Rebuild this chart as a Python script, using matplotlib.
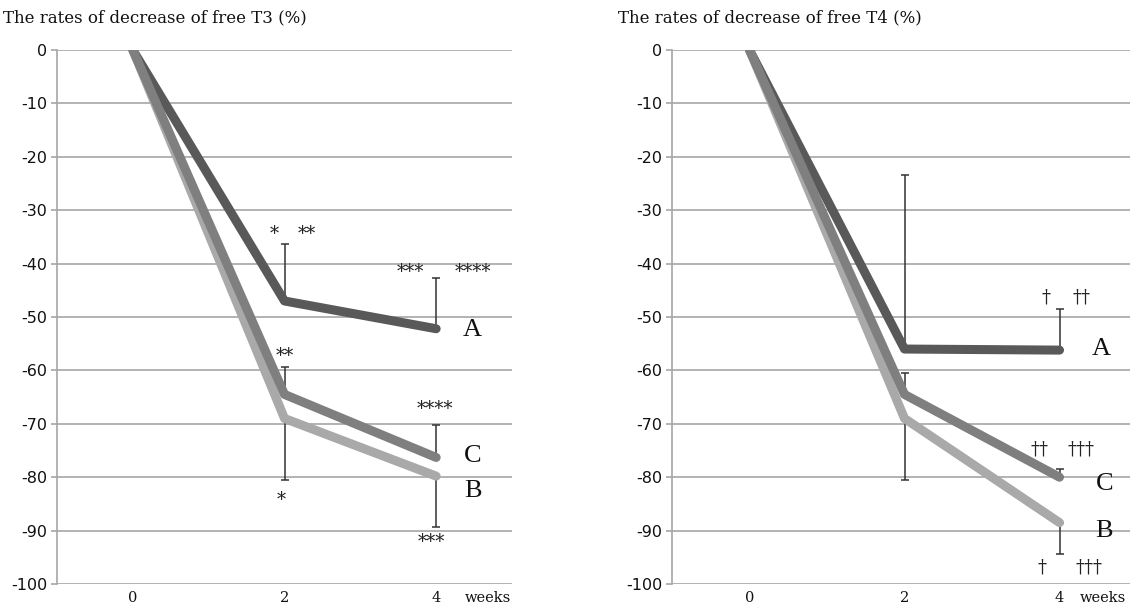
"""Rates of decrease of free T3 / free T4 in groups A, B and C."""

import matplotlib
matplotlib.use("Agg")
import matplotlib.pyplot as plt
import numpy as np

plt.rcParams["axes.unicode_minus"] = False

weeks = ["0", "2", "4"]

# free T3 (%)
t3_a = [0, -47.0, -52.2]
t3_b = [0, -69.0, -79.8]
t3_c = [0, -64.5, -76.3]
# end of each one-sided error bar (nan = no bar)
t3_a_bar = [np.nan, -36.3, -42.7]
t3_b_bar = [np.nan, -80.5, -89.3]
t3_c_bar = [np.nan, -59.3, -70.2]

# free T4 (%)
t4_a = [0, -56.0, -56.2]
t4_b = [0, -69.0, -88.5]
t4_c = [0, -64.5, -80.0]
t4_a_bar = [np.nan, -23.5, -48.5]
t4_b_bar = [np.nan, -80.5, -94.3]
t4_c_bar = [np.nan, -60.5, -78.5]

# significance marks: (text, x position, y value)
t3_marks = [
    ("*", 0.93, -34.5), ("**", 1.15, -34.5),
    ("***", 1.83, -41.5), ("****", 2.24, -41.5),
    ("**", 1.0, -57.3),
    ("****", 1.99, -67.2),
    ("*", 0.98, -84.3),
    ("***", 1.97, -92.1),
]
t4_marks = [
    ("†", 1.91, -46.3), ("††", 2.14, -46.3),
    ("††", 1.87, -74.9), ("†††", 2.14, -74.9),
    ("†", 1.89, -97.0), ("†††", 2.19, -97.0),
]
t3_labels = [("A", 2.24, -52.5), ("C", 2.24, -76.0), ("B", 2.24, -82.6)]
t4_labels = [("A", 2.27, -55.9), ("C", 2.29, -81.2), ("B", 2.29, -90.0)]

colors = {"A": "#595959", "B": "#a9a9a9", "C": "#7f7f7f"}
GRID = "#a6a6a6"
SERIF = "DejaVu Serif"


def draw_panel(ax, title, series, bars, marks, labels, weeks_x):
    x = np.arange(len(weeks))
    ax.set_xlim(-0.5, len(weeks) - 0.5)
    ax.set_ylim(-100, 0)
    ax.set_yticks(np.arange(-100, 1, 10))
    ax.yaxis.grid(True, color=GRID, linewidth=1.2)
    ax.set_axisbelow(True)
    for side in ["top", "right", "bottom"]:
        ax.spines[side].set_visible(False)
    ax.spines["left"].set_color(GRID)
    ax.spines["left"].set_linewidth(1.2)
    ax.tick_params(axis="y", length=4, width=1.2, color=GRID, labelsize=11.5,
                   pad=3, labelcolor="#111111")
    ax.tick_params(axis="x", length=0, pad=5)
    ax.set_xticks(x)
    ax.set_xticklabels(weeks, family=SERIF, fontsize=10.5, color="#111111")
    ax.annotate("weeks", xy=(weeks_x, 0), xycoords=("data", "axes fraction"),
                xytext=(0, -5), textcoords="offset points", family=SERIF,
                fontsize=10.5, ha="center", va="top", color="#111111",
                annotation_clip=False)

    for key in ["A", "B", "C"]:
        vals = np.array(series[key], dtype=float)
        ends = np.array(bars[key], dtype=float)
        has = ~np.isnan(ends)
        err = np.abs(ends[has] - vals[has])
        upper = ends[has] > vals[has]
        yerr = [np.where(upper, 0, err), np.where(upper, err, 0)]
        ax.errorbar(x[has], vals[has], yerr=yerr, fmt="none", ecolor="#333333",
                    elinewidth=1.1, capsize=3, capthick=1.1, zorder=2)

    for key in ["A", "B", "C"]:
        ax.plot(x, series[key], color=colors[key], linewidth=6.5,
                solid_capstyle="round", solid_joinstyle="round", zorder=3)

    for txt, mx, my in marks:
        ax.text(mx, my, txt, family=SERIF, fontsize=13, ha="center",
                va="center", color="#222222", zorder=4)
    for txt, lx, ly in labels:
        ax.text(lx, ly, txt, family="Liberation Serif", fontsize=19,
                ha="center", va="center", color="#111111", zorder=4)

    ax.annotate(title, xy=(0, 1), xycoords="axes fraction",
                xytext=(-54, 32), textcoords="offset pixels", family=SERIF,
                fontsize=12, ha="left", va="center", color="#111111")


fig = plt.figure(figsize=(11.3, 6.06), dpi=100)
ax1 = fig.add_axes([57 / 1130, 1 - 584 / 606, 455 / 1130, 534 / 606])
ax2 = fig.add_axes([672 / 1130, 1 - 584 / 606, 465 / 1130, 534 / 606])

draw_panel(ax1, "The rates of decrease of free T3 (%)",
           {"A": t3_a, "B": t3_b, "C": t3_c},
           {"A": t3_a_bar, "B": t3_b_bar, "C": t3_c_bar},
           t3_marks, t3_labels, 2.34)
draw_panel(ax2, "The rates of decrease of free T4 (%)",
           {"A": t4_a, "B": t4_b, "C": t4_c},
           {"A": t4_a_bar, "B": t4_b_bar, "C": t4_c_bar},
           t4_marks, t4_labels, 2.28)

fig.savefig("out.png", dpi=100)
